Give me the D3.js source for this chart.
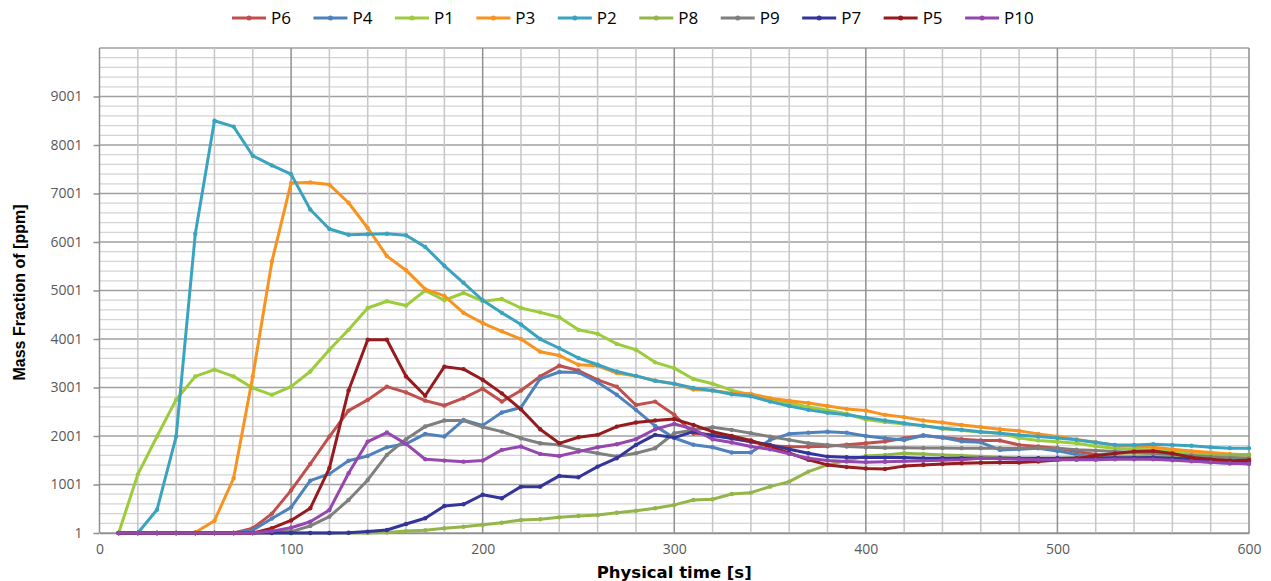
<!DOCTYPE html>
<html>
<head>
<meta charset="utf-8">
<script src="https://cdn.jsdelivr.net/npm/d3@7"></script>
<style>
  body { margin: 0; background: #fff; }
  svg { display: block; }
</style>
</head>
<body>
<svg id="chart" width="1271" height="581"></svg>
<script>
// ── Data ─────────────────────────────────────────────────────────────────────
const times = [10, 20, 30, 40, 50, 60, 70, 80, 90, 100,
  110, 120, 130, 140, 150, 160, 170, 180, 190, 200,
  210, 220, 230, 240, 250, 260, 270, 280, 290, 300,
  310, 320, 330, 340, 350, 360, 370, 380, 390, 400,
  410, 420, 430, 440, 450, 460, 470, 480, 490, 500,
  510, 520, 530, 540, 550, 560, 570, 580, 590, 600];

const p6 = [1, 1, 1, 1, 1, 1, 1, 100, 400, 880,
  1425, 1990, 2525, 2745, 3020, 2900, 2730, 2630, 2780, 2975,
  2710, 2940, 3230, 3450, 3350, 3160, 3020, 2640, 2710, 2440,
  2050, 2030, 1950, 1880, 1800, 1780, 1780, 1790, 1820, 1850,
  1886, 1955, 2010, 1970, 1934, 1907, 1907, 1818, 1783, 1750,
  1680, 1620, 1590, 1580, 1590, 1560, 1530, 1500, 1480, 1470];

const p4 = [1, 1, 1, 1, 1, 1, 1, 60, 300, 530,
  1080, 1220, 1490, 1590, 1770, 1840, 2045, 1990, 2330, 2220,
  2485, 2590, 3180, 3320, 3310, 3110, 2850, 2540, 2210, 1960,
  1820, 1770, 1660, 1660, 1920, 2045, 2070, 2090, 2070, 2000,
  1955, 1920, 2010, 1970, 1890, 1870, 1714, 1730, 1750, 1694,
  1620, 1560, 1550, 1540, 1530, 1520, 1490, 1460, 1440, 1430];

const p1 = [1, 1210, 1990, 2750, 3230, 3370, 3230, 2990, 2850, 3020,
  3330, 3780, 4190, 4640, 4780, 4690, 5000, 4800, 4950, 4780,
  4825, 4640, 4550, 4450, 4190, 4110, 3900, 3780, 3520, 3400,
  3175, 3080, 2940, 2850, 2760, 2680, 2600, 2530, 2460, 2340,
  2290, 2250, 2220, 2150, 2120, 2080, 2060, 1960, 1910, 1880,
  1850, 1790, 1750, 1730, 1710, 1680, 1650, 1620, 1600, 1620];

const p3 = [1, 1, 1, 1, 10, 255, 1130, 3230, 5600, 7220,
  7230, 7185, 6810, 6290, 5710, 5420, 5030, 4890, 4540, 4330,
  4160, 4000, 3740, 3660, 3470, 3450, 3300, 3240, 3140, 3080,
  2960, 2940, 2885, 2870, 2780, 2730, 2680, 2620, 2560, 2526,
  2437, 2390, 2320, 2280, 2230, 2185, 2140, 2107, 2045, 1990,
  1930, 1870, 1810, 1790, 1770, 1730, 1690, 1660, 1630, 1610];

const p2 = [1, 1, 480, 1990, 6170, 8500, 8380, 7780, 7580, 7400,
  6670, 6270, 6150, 6160, 6170, 6140, 5900, 5510, 5160, 4800,
  4540, 4300, 4000, 3810, 3610, 3470, 3330, 3240, 3140, 3080,
  2990, 2940, 2860, 2820, 2710, 2620, 2540, 2480, 2440, 2380,
  2320, 2265, 2210, 2160, 2130, 2090, 2060, 2020, 1990, 1960,
  1921, 1866, 1818, 1818, 1832, 1818, 1800, 1770, 1750, 1750];

const p8 = [1, 1, 1, 1, 1, 1, 1, 1, 1, 1,
  1, 1, 1, 1, 10, 40, 60, 100, 130, 170,
  213, 269, 283, 324, 352, 373, 420, 461, 511, 580,
  682, 696, 806, 833, 957, 1060, 1267, 1405, 1494, 1590,
  1611, 1646, 1632, 1611, 1597, 1576, 1563, 1543, 1543, 1543,
  1560, 1580, 1590, 1590, 1600, 1600, 1590, 1590, 1600, 1610];

const p9 = [1, 1, 1, 1, 1, 1, 1, 1, 20, 30,
  146, 338, 682, 1095, 1611, 1935, 2196, 2320, 2320, 2185,
  2092, 1956, 1852, 1818, 1714, 1646, 1577, 1646, 1749, 2058,
  2127, 2183, 2127, 2058, 1989, 1921, 1852, 1818, 1783, 1769,
  1760, 1760, 1755, 1755, 1750, 1750, 1750, 1750, 1750, 1750,
  1720, 1700, 1680, 1660, 1650, 1620, 1600, 1570, 1550, 1540];

const p7 = [1, 1, 1, 1, 1, 1, 1, 1, 1, 1,
  1, 1, 5, 30, 63, 187, 304, 558, 593, 790,
  717, 957, 957, 1178, 1151, 1370, 1543, 1818, 2024, 1968,
  2090, 2004, 1955, 1886, 1818, 1728, 1646, 1576, 1563, 1560,
  1556, 1556, 1543, 1543, 1543, 1543, 1543, 1543, 1543, 1543,
  1540, 1545, 1550, 1555, 1560, 1540, 1520, 1500, 1480, 1470];

const p5 = [1, 1, 1, 1, 1, 1, 1, 1, 100, 260,
  510, 1340, 2940, 3985, 3985, 3230, 2830, 3430, 3380, 3160,
  2880, 2550, 2140, 1850, 1975, 2025, 2195, 2280, 2320, 2350,
  2230, 2090, 2000, 1910, 1780, 1650, 1510, 1405, 1360, 1330,
  1320, 1380, 1405, 1425, 1440, 1450, 1453, 1453, 1473, 1508,
  1540, 1600, 1640, 1680, 1690, 1640, 1560, 1520, 1490, 1500];

const p10 = [1, 1, 1, 1, 1, 1, 1, 1, 40, 110,
  234, 476, 1233, 1886, 2072, 1838, 1522, 1494, 1472, 1494,
  1714, 1783, 1632, 1590, 1679, 1770, 1832, 1935, 2141, 2251,
  2141, 1934, 1866, 1783, 1728, 1632, 1543, 1494, 1473, 1460,
  1470, 1480, 1490, 1500, 1510, 1540, 1530, 1520, 1510, 1510,
  1510, 1510, 1520, 1520, 1520, 1500, 1480, 1460, 1440, 1430];

const seriesNames  = ['P6', 'P4', 'P1', 'P3', 'P2', 'P8', 'P9', 'P7', 'P5', 'P10'];
const seriesValues = [p6, p4, p1, p3, p2, p8, p9, p7, p5, p10];
const seriesColors = ['#c0504d', '#4f81bd', '#9ccc3c', '#f7931e', '#3aa3c0',
                      '#93b54a', '#7f7f7f', '#33359a', '#951b1e', '#9547ad'];

const yTicks = [1, 1001, 2001, 3001, 4001, 5001, 6001, 7001, 8001, 9001];
const xTicks = [0, 100, 200, 300, 400, 500, 600];

// ── Scales ───────────────────────────────────────────────────────────────────
const svg = d3.select('#chart');
const x = d3.scaleLinear().domain([0, 600]).range([99.5, 1249]);
const y = d3.scaleLinear().domain([1, 10001]).range([533, 48]);
const plotTop = y(10001), plotBottom = y(1);

// ── Grid ─────────────────────────────────────────────────────────────────────
const grid = svg.append('g');
grid.selectAll('.hminor').data(d3.range(1, 10002, 200)).enter().append('line')
  .attr('x1', x(0)).attr('x2', x(600))
  .attr('y1', d => y(d)).attr('y2', d => y(d))
  .style('stroke', d => (d - 1) % 1000 === 0 ? '#a0a0a0' : '#d4d4d4')
  .style('stroke-width', d => (d - 1) % 1000 === 0 ? 1.5 : 1.2);

grid.selectAll('.vminor').data(d3.range(20, 601, 20)).enter().append('line')
  .attr('x1', d => x(d)).attr('x2', d => x(d))
  .attr('y1', plotTop).attr('y2', plotBottom)
  .style('stroke', d => d % 100 === 0 ? '#8f8f8f' : '#c6c6c6')
  .style('stroke-width', 1.5);

// ── Axes ─────────────────────────────────────────────────────────────────────
const yAxis = svg.append('g').attr('transform', `translate(${x(0)},0)`)
  .call(d3.axisLeft(y).tickValues(yTicks).tickFormat(d3.format('d')).tickSize(6).tickPadding(11));
const xAxis = svg.append('g').attr('transform', `translate(0,${plotBottom})`)
  .call(d3.axisBottom(x).tickValues(xTicks).tickSize(0).tickPadding(11));

[yAxis, xAxis].forEach(a => {
  a.select('.domain').style('stroke', '#8f8f8f').style('stroke-width', 1.5);
  a.selectAll('line').style('stroke', '#8f8f8f').style('stroke-width', 1.5);
  a.selectAll('text').style('fill', '#595959').style('font-size', '14px')
    .style('font-family', 'Open Sans, sans-serif');
});
yAxis.select('.domain').attr('d', `M0,${plotTop}V${plotBottom}`);

svg.append('text')
  .attr('transform', `translate(25,${(plotTop + plotBottom) / 2 + 2}) rotate(-90)`)
  .attr('text-anchor', 'middle')
  .style('font-family', 'Liberation Sans, sans-serif').style('font-weight', 'bold')
  .style('font-size', '16px').style('fill', '#000')
  .text('Mass Fraction of  [ppm]');

svg.append('text')
  .attr('x', x(300)).attr('y', 578)
  .attr('text-anchor', 'middle')
  .style('font-family', 'DejaVu Sans, sans-serif').style('font-weight', 'bold')
  .style('font-size', '16.5px').style('fill', '#000')
  .text('Physical time [s]');

// ── Series ───────────────────────────────────────────────────────────────────
const line = d3.line().x((d, i) => x(times[i])).y(d => y(d));
const plot = svg.append('g');
seriesValues.forEach((vals, k) => {
  const g = plot.append('g');
  g.append('path').datum(vals)
    .attr('d', line)
    .style('fill', 'none').style('stroke', seriesColors[k])
    .style('stroke-width', 3).style('stroke-linejoin', 'round');
  g.selectAll('circle').data(vals).enter().append('circle')
    .attr('cx', (d, i) => x(times[i])).attr('cy', d => y(d)).attr('r', 2.2)
    .style('fill', seriesColors[k]);
});

// ── Legend ───────────────────────────────────────────────────────────────────
const legend = svg.append('g');
let lx = 232;
seriesNames.forEach((name, k) => {
  const item = legend.append('g').attr('transform', `translate(${lx},18)`);
  item.append('line').attr('x1', 0).attr('x2', 34)
    .style('stroke', seriesColors[k]).style('stroke-width', 3);
  item.append('circle').attr('cx', 17).attr('r', 2.5).style('fill', seriesColors[k]);
  const t = item.append('text').attr('x', 39).attr('y', 6)
    .style('font-family', 'Open Sans, sans-serif').style('font-size', '17px').style('fill', '#000')
    .text(name);
  lx += 39 + t.node().getComputedTextLength() + 22.5;
});
</script>
</body>
</html>
